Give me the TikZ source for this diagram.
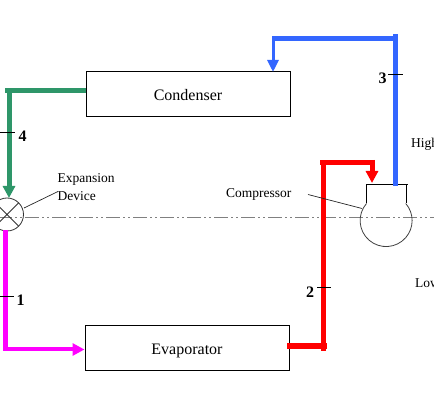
\documentclass[tikz,border=0pt]{standalone}
\usepackage{fontspec}
\setmainfont{Liberation Serif}
\usetikzlibrary{arrows.meta}
\tikzset{
  box/.style={draw=black,line width=1pt,minimum width=204pt,minimum height=45pt,inner sep=0pt,font=\fontsize{16}{18}\selectfont},
  pipe/.style={line width=5pt},
  pipearrow/.style={pipe,-{Triangle[length=12pt,width=12pt]}},
  tick/.style={draw=black,line width=0.8pt},
  num/.style={font=\fontsize{16}{18}\selectfont\bfseries,inner sep=0pt},
  small/.style={font=\fontsize{13.5}{17}\selectfont,inner sep=0pt},
  leader/.style={draw=black!85,line width=0.7pt},
  centerline/.style={draw=black!50,line width=1.4pt,dash pattern=on 14pt off 3pt on 2pt off 3pt on 2pt off 3pt}
}
\definecolor{pgreen}{RGB}{46,150,105}
\definecolor{pblue}{RGB}{51,102,255}
\definecolor{pmag}{RGB}{255,0,255}
\begin{document}
\begin{tikzpicture}[x=1pt,y=-1pt]
\useasboundingbox (0,0) rectangle (434,403);
\clip (0,0) rectangle (434,403);
% centre line
\coordinate (cl0) at (-2,217.5);
\coordinate (cl1) at (434,217.5);
\draw[centerline] (cl0) -- (cl1);
% boxes
\node[box] (cond) at (188,94) {\raisebox{-7pt}[0pt][0pt]{Condenser}};
\node[box] (evap) at (187,348) {\raisebox{-7pt}[0pt][0pt]{Evaporator}};
% expansion device
\node[draw=black!80,line width=0.8pt,circle,minimum size=33pt,inner sep=0pt] (exp) at (7,214.5) {};
\coordinate (xa) at (-4.5,203); \coordinate (xb) at (18.5,226);
\coordinate (xc) at (18.5,203); \coordinate (xd) at (-4.5,226);
\draw[black!80,line width=0.8pt] (xa) -- (xb) (xc) -- (xd);
% compressor
\coordinate (nl) at (366.5,203.5);
\coordinate (nlt) at (366.5,184.5);
\coordinate (nrt) at (408,184.5);
\coordinate (nrb) at (406.5,203.5);
\coordinate (nrt2) at (406.5,184.5);
\draw[black!75,line width=0.8pt] (nl) arc[start angle=221,end angle=-41,radius=26];
\draw[black,line width=1pt] (nl) -- (nlt) -- (nrt) (nrt2) -- (nrb);
% pipes
\coordinate (g0) at (86,91); \coordinate (g1) at (5,91); \coordinate (g2) at (9,91); \coordinate (g3) at (9,198);
\draw[pipe,pgreen] (cond.west|-g0) -- (g1);
\draw[pipearrow,pgreen] (g2) -- (g3);
\coordinate (b0) at (395,186); \coordinate (b1) at (395,34); \coordinate (b2) at (397,38.5); \coordinate (b3) at (273,38.5);
\draw[pipe,pblue] (b0) -- (b1);
\draw[pipe,pblue] (b2) -- (b3);
\coordinate (b4) at (273,36.5); \coordinate (b5) at (273,72);
\draw[line width=3pt,pblue,-{Triangle[length=12pt,width=11pt]}] (b4) -- (b5);
\coordinate (r0) at (287,346.5); \coordinate (r1) at (327,346.5); \coordinate (r2) at (323.5,351); \coordinate (r3) at (323.5,160);
\draw[line width=6pt,red] (r0) -- (r1);
\draw[pipe,red] (r2) -- (r3);
\coordinate (r4) at (320,162.5); \coordinate (r5) at (374,162.5); \coordinate (r6) at (372,160); \coordinate (r7) at (372,183);
\draw[pipe,red] (r4) -- (r5);
\draw[pipearrow,red] (r6) -- (r7);
\coordinate (m0) at (5.5,230); \coordinate (m1) at (5.5,351); \coordinate (m2) at (3,349.5);
\draw[pipe,pmag] (m0) -- (m1);
\draw[line width=4pt,pmag,-{Triangle[length=12pt,width=12pt]}] (m2) -- (evap.west|-m2);
% ticks
\coordinate (t4a) at (0,132); \coordinate (t4b) at (15,132);
\coordinate (t3a) at (388,74); \coordinate (t3b) at (403,74);
\coordinate (t2a) at (317,287); \coordinate (t2b) at (331,287);
\coordinate (t1a) at (0,296); \coordinate (t1b) at (14,296);
\draw[tick] (t4a) -- (t4b) (t3a) -- (t3b) (t2a) -- (t2b) (t1a) -- (t1b);
\node[num] (n4) at (22.5,136.5) {4};
\node[num] (n3) at (382.5,78.5) {3};
\node[num] (n2) at (310,292) {2};
\node[num] (n1) at (20.5,300.5) {1};
% labels
\node[small,anchor=west] (l1) at (57.5,179) {Expansion};
\node[small,anchor=west] (l2) at (57.5,196.5) {Device};
\node[small,anchor=west] (l3) at (226,194.5) {Compressor};
\node[small,anchor=west] (hi) at (411,144.5) {High};
\node[small,anchor=west] (lo) at (415,283.5) {Low};
% leaders
\coordinate (le) at (24,208); \coordinate (lf) at (58,191.5);
\coordinate (lc) at (308,194.5); \coordinate (ld) at (362,208.5);
\draw[leader] (le) -- (lf) (lc) -- (ld);
\end{tikzpicture}
\end{document}
